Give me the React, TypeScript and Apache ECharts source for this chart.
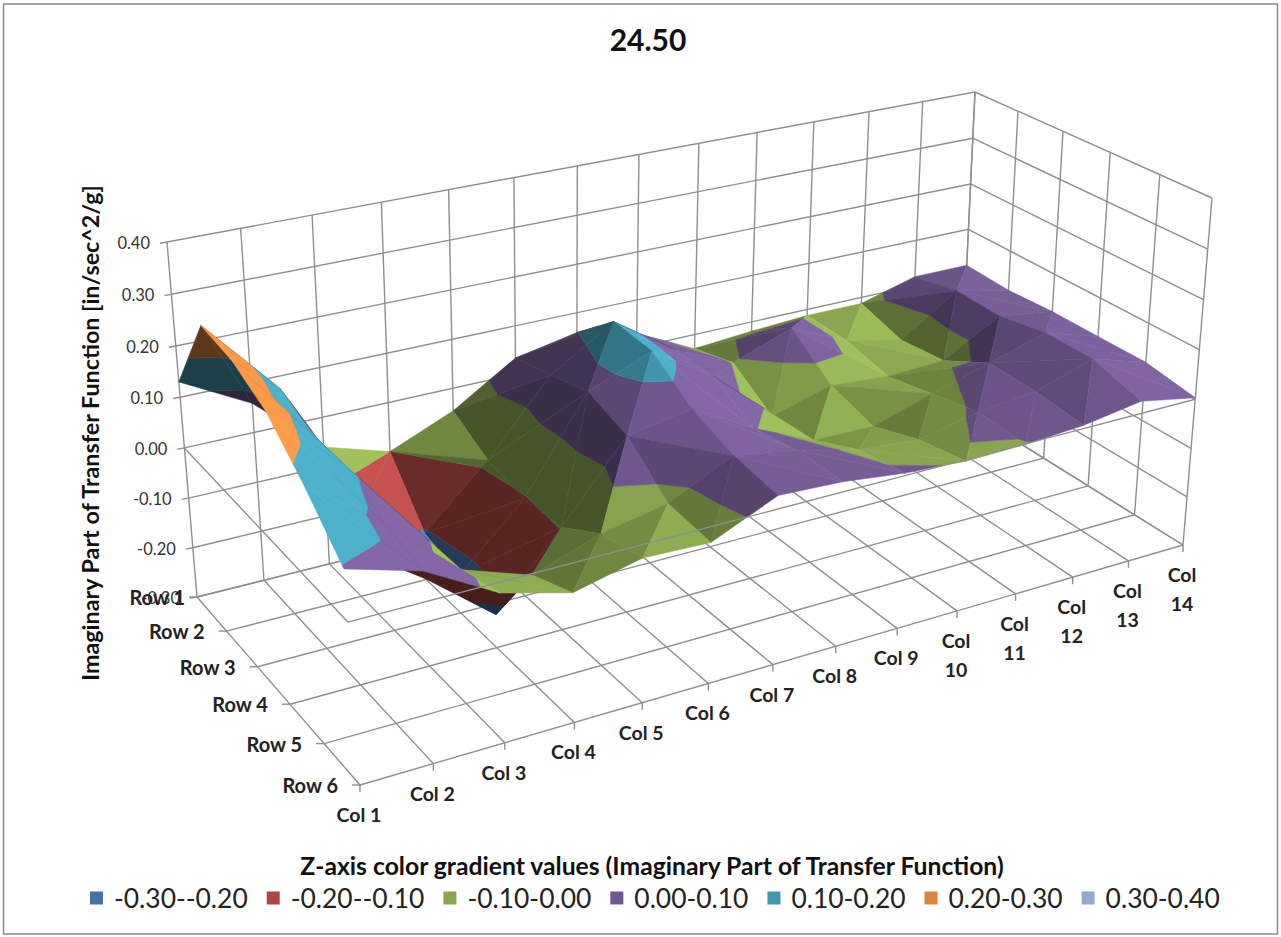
import React, { useEffect, useRef } from "react";
import * as echarts from "echarts";

const colLabels = ["Col 1","Col 2","Col 3","Col 4","Col 5","Col 6","Col 7","Col 8","Col 9","Col\n10","Col\n11","Col\n12","Col\n13","Col\n14"];
const rowLabels = ["Row 1","Row 2","Row 3","Row 4","Row 5","Row 6"];
const zTicks = [-0.3,-0.2,-0.1,0,0.1,0.2,0.3,0.4];
const bandNames = ["-0.30--0.20","-0.20--0.10","-0.10-0.00","0.00-0.10","0.10-0.20","0.20-0.30","0.30-0.40"];
const legendColors = ["#4572A7","#AA4643","#89A54E","#71588F","#4198AF","#DB843D","#93A9CF"];
const surfaceColors = ["#4F81BD","#C0504D","#9BBB59","#8064A2","#4BACC6","#F79646","#95B3D7"];

const row1 = [0.13,0.058,-0.06,-0.1,-0.046,0.034,0.059,0.03,-0.03,-0.02,-0.013,-0.013,0.02,0.02];
const row2 = [0.295,0.145,-0.14,-0.205,-0.088,0.055,0.135,0.05,-0.005,0.04,-0.014,-0.04,0.04,0.015];
const row3 = [0.285,0.115,-0.17,-0.224,-0.105,0.078,0.13,0.05,-0.06,-0.025,-0.035,-0.03,0.037,0.02];
const row4 = [0.25,0.115,-0.13,-0.235,-0.097,0.05,0.073,0.003,-0.05,-0.052,-0.015,0.02,0.055,0.02];
const row5 = [0.18,0.075,-0.045,-0.09,-0.045,-0.02,0.041,0.02,-0.01,-0.02,0.005,0.017,0.055,0.02];
const row6 = [0.096,0.056,-0.02,-0.055,-0.025,-0.03,0.026,0.02,0.005,-0.003,-0.001,0.007,0.025,0.003];
const rowsData = [row1,row2,row3,row4,row5,row6];

const FONT = "Lato";
const Z_MIN = -0.3, Z_MAX = 0.4;
const nC = colLabels.length, nR = rowLabels.length;

// Perspective scale of the 3D box: a homography for the floor, one for the roof, and a slightly
// foreshortened interpolation between them.
function quadMap(B:number[],C:number[],D:number[],A:number[]){
  const dx1=C[0]-D[0],dx2=A[0]-D[0],sx=B[0]-C[0]+D[0]-A[0];
  const dy1=C[1]-D[1],dy2=A[1]-D[1],sy=B[1]-C[1]+D[1]-A[1];
  const det=dx1*dy2-dx2*dy1;
  const g=(sx*dy2-dx2*sy)/det,h=(dx1*sy-sx*dy1)/det;
  const a=C[0]-B[0]+g*C[0],b=A[0]-B[0]+h*A[0],c=B[0];
  const d=C[1]-B[1]+g*C[1],e=A[1]-B[1]+h*A[1],f=B[1];
  return (u:number,v:number)=>{const W=1+g*u+h*v;return [(a*u+b*v+c)/W,(d*u+e*v+f)/W,W];};
}
const floorMap=quadMap([360,785],[1183,545],[960,406],[197,597]);
const roofMap=quadMap([331,397],[1212,198],[975,92],[167,242]);
const FORESHORTEN=1.036;
const scale3d=(u:number,v:number,w:number)=>{
  const f=floorMap(u,v),t=roofMap(u,v);
  const k=w/(w+(1-w)*FORESHORTEN);
  return [f[0]+k*(t[0]-f[0]),f[1]+k*(t[1]-f[1]),f[2]];
};
const uOf=(c:number)=>c/(nC-1);
const vOf=(r:number)=>(nR-1-r)/(nR-1);
const wOf=(z:number)=>(z-Z_MIN)/(Z_MAX-Z_MIN);
const proj=(c:number,r:number,z:number)=>scale3d(uOf(c),vOf(r),wOf(z));

type V=[number,number,number];
function clipBand(poly:V[],lo:number,hi:number):V[]{
  const clip=(pts:V[],lim:number,keepAbove:boolean)=>{
    const out:V[]=[];
    for(let i=0;i<pts.length;i++){
      const p=pts[i],q=pts[(i+1)%pts.length];
      const pi=keepAbove?p[2]>=lim:p[2]<=lim,qi=keepAbove?q[2]>=lim:q[2]<=lim;
      if(pi)out.push(p);
      if(pi!==qi){const t=(lim-p[2])/(q[2]-p[2]);out.push([p[0]+t*(q[0]-p[0]),p[1]+t*(q[1]-p[1]),lim]);}
    }
    return out;
  };
  return clip(clip(poly,lo,true),hi,false);
}
function shadeColor(hex:string,k:number){
  const n=parseInt(hex.slice(1),16);
  const f=(x:number)=>Math.min(255,Math.round(x*k));
  return `rgb(${f(n>>16)},${f((n>>8)&255)},${f(n&255)})`;
}
const LIGHT=(()=>{const l=[0.55,-0.4,0.72];const m=Math.hypot(l[0],l[1],l[2]);return l.map(x=>x/m);})();
function shadeOf(tri:V[]){
  const P=tri.map(t=>[t[0],(nR-1-t[1])*1.3,t[2]*8]);
  const e1=[P[1][0]-P[0][0],P[1][1]-P[0][1],P[1][2]-P[0][2]];
  const e2=[P[2][0]-P[0][0],P[2][1]-P[0][1],P[2][2]-P[0][2]];
  let n=[e1[1]*e2[2]-e1[2]*e2[1],e1[2]*e2[0]-e1[0]*e2[2],e1[0]*e2[1]-e1[1]*e2[0]];
  if(n[2]<0)n=n.map(x=>-x);
  const m=Math.hypot(n[0],n[1],n[2]);
  const dot=(n[0]*LIGHT[0]+n[1]*LIGHT[1]+n[2]*LIGHT[2])/m;
  return Math.max(0.46,Math.min(1.03,0.3+0.8*dot));
}
const area=(p:number[][])=>(p[1][0]-p[0][0])*(p[2][1]-p[0][1])-(p[2][0]-p[0][0])*(p[1][1]-p[0][1]);

type Piece={band:number;points:number[][];fill:string;depth:number;order:number};
function buildPieces():Piece[]{
  const tris:{tri:V[];depth:number}[]=[];
  for(let r=0;r<nR-1;r++)for(let c=0;c<nC-1;c++){
    const a:V=[c,r,rowsData[r][c]],b:V=[c+1,r,rowsData[r][c+1]],d:V=[c,r+1,rowsData[r+1][c]],e:V=[c+1,r+1,rowsData[r+1][c+1]];
    const ridgeAE=a[2]+e[2]>=b[2]+d[2];
    const pair=(ridgeAE?[[a,b,e],[a,e,d]]:[[a,b,d],[b,e,d]]) as V[][];
    for(const tri of pair){
      const depth=tri.reduce((s,t)=>s+proj(t[0],t[1],t[2])[2],0)/3;
      tris.push({tri,depth});
    }
  }
  tris.sort((x,y)=>y.depth-x.depth);
  const out:Piece[]=[];
  tris.forEach(({tri,depth})=>{
    const flat=tri.map(t=>proj(t[0],t[1],0));
    const real=tri.map(t=>proj(t[0],t[1],t[2]));
    const under=area(flat)*area(real)<0;
    const k=under?0.37:shadeOf(tri);
    for(let b=0;b<bandNames.length;b++){
      const poly=clipBand(tri,zTicks[b],zTicks[b+1]);
      if(poly.length<3)continue;
      out.push({band:b,points:poly.map(t=>proj(t[0],t[1],t[2]).slice(0,2)),fill:shadeColor(surfaceColors[b],k),depth,order:out.length+10});
    }
  });
  return out;
}

type Seg={a:number[];b:number[];off?:number[]};
function wallSegments():Seg[]{
  const s:Seg[]=[];
  const W1=1;
  for(let c=0;c<nC;c++){const u=uOf(c);s.push({a:[u,1,0],b:[u,1,W1]});s.push({a:[u,0,0],b:[u,1,0]});s.push({a:[u,0,0],b:[u,0,0],off:[0,7]});}
  for(let r=0;r<nR;r++){const v=vOf(r);s.push({a:[1,v,0],b:[1,v,W1]});s.push({a:[0,v,0],b:[1,v,0]});s.push({a:[0,v,0],b:[0,v,0],off:[-8,0]});}
  zTicks.forEach(z=>{const w=wOf(z);s.push({a:[0,1,w],b:[1,1,w]});s.push({a:[1,1,w],b:[1,0,w]});s.push({a:[0,1,w],b:[0,1,w],off:[-7,1.3]});});
  return s;
}
const zeroSegments=():Seg[]=>{const w=wOf(0);return [{a:[0,1,w],b:[0,0,w]},{a:[0,0,w],b:[1,0,w]}];};

function segSeries(name:string,segs:Seg[],z:number){
  return {
    type:"custom",name,coordinateSystem:"none",silent:true,z,
    data:segs.map((_,i)=>[i]),
    renderItem:(p:any)=>{
      const g=segs[p.dataIndex];
      const a=scale3d(g.a[0],g.a[1],g.a[2]),b=scale3d(g.b[0],g.b[1],g.b[2]);
      const end=g.off?[b[0]+g.off[0],b[1]+g.off[1]]:b;
      return {type:"line",shape:{x1:a[0],y1:a[1],x2:end[0],y2:end[1]},style:{stroke:"#8f8f8f",lineWidth:1.4,fill:"none"}};
    },
  };
}

export default function App(){
  const ref=useRef<HTMLDivElement>(null);
  useEffect(()=>{
    const chart=echarts.init(ref.current!,undefined,{renderer:"svg"});
    const pieces=buildPieces();
    const bandSeries=bandNames.map((name,b)=>{
      const mine=pieces.filter(p=>p.band===b);
      return {
        type:"custom",name,coordinateSystem:"none",silent:true,z:2,
        itemStyle:{color:legendColors[b]},
        data:mine.map((_,i)=>[i]),
        renderItem:(p:any)=>{
          const m=mine[p.dataIndex];
          return {type:"polygon",z2:m.order,shape:{points:m.points},style:{fill:m.fill,stroke:m.fill,lineWidth:0.5}};
        },
      };
    });
    const text=(t:string,x:number,y:number,size:number,align:string,weight:string|number="normal",color="#262626",extra:any={})=>({
      type:"text",x,y,z:10,style:{text:t,font:`${weight} ${size}px ${FONT}`,fill:color,textAlign:align,textVerticalAlign:"middle",...extra.style},...extra.el,
    });
    const labels:any[]=[];
    zTicks.forEach(z=>{const p=scale3d(0,1,wOf(z));labels.push(text(z.toFixed(2),p[0]-17,p[1]+1,16.5,"right","normal","#333"));});
    rowLabels.forEach((t,r)=>{const p=scale3d(0,vOf(r),0);labels.push(text(t,p[0]-(r===0?12:22),p[1],20,"right","bold","#222"));});
    colLabels.forEach((t,c)=>{const p=scale3d(uOf(c),0,0);labels.push(text(t,p[0]-1,p[1]+15,19.5,"center","bold","#222",{style:{textVerticalAlign:"top",lineHeight:29}}));});
    chart.setOption({
      animation:false,
      backgroundColor:"#ffffff",
      title:{text:"24.50",left:643,top:19,textAlign:"center",textStyle:{fontFamily:FONT,fontWeight:"bold",fontSize:30,color:"#111"}},
      legend:{
        data:bandNames,left:85,top:880,itemWidth:13,itemHeight:13,itemGap:19,icon:"rect",selectedMode:false,
        textStyle:{fontFamily:FONT,fontSize:26.4,color:"#222",padding:[0,0,0,6]},
      },
      graphic:{elements:[
        {type:"rect",z:0,shape:{x:3.5,y:4,width:1274,height:930},style:{fill:"#fff",stroke:"#8a8a8a",lineWidth:1.5}},
        text("Imaginary Part of Transfer Function [in/sec^2/g]",90,433,23.3,"center","bold","#111",{el:{rotation:Math.PI/2}}),
        text("Z-axis color gradient values (Imaginary Part of Transfer Function)",652,865,24.7,"center","bold","#111"),
        ...labels,
      ]},
      series:[segSeries("walls",wallSegments(),1),...bandSeries,segSeries("zeroPlane",zeroSegments(),3)],
    });
    return ()=>chart.dispose();
  },[]);
  return <div ref={ref} style={{position:"fixed",left:0,top:0,width:1281,height:937,background:"#fff"}}/>;
}
